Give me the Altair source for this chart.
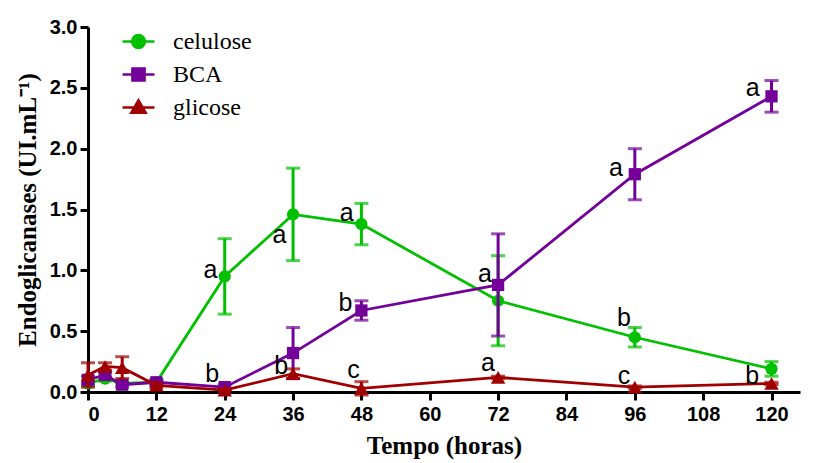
import altair as alt
import pandas as pd

time = [0, 3, 6, 12, 24, 36, 48, 72, 96, 120]
celulose = [0.07, 0.11, 0.07, 0.08, 0.95, 1.46, 1.38, 0.75, 0.45, 0.19]
celulose_sd = [0.02, 0.02, 0.01, 0.02, 0.31, 0.38, 0.17, 0.37, 0.08, 0.06]
bca = [0.10, 0.14, 0.06, 0.08, 0.04, 0.32, 0.67, 0.88, 1.79, 2.43]
bca_sd = [0.03, 0.02, 0.02, 0.02, 0.02, 0.21, 0.08, 0.42, 0.21, 0.13]
glicose = [0.14, 0.21, 0.20, 0.055, 0.015, 0.15, 0.03, 0.12, 0.04, 0.07]
glicose_sd = [0.10, 0.03, 0.09, 0.02, 0.01, 0.04, 0.055, 0.01, 0.01, 0.01]

series_names = ["celulose", "BCA", "glicose"]
series_colors = ["#00C000", "#730099", "#A00000"]

# significance letters (text, x position in hours, y value)
letter_text = ["a", "a", "a", "a", "b", "b", "b", "c", "a", "a", "a", "b", "c", "b"]
letter_x = [21.5, 33.6, 45.4, 69.7, 45.2, 33.9, 21.8, 46.6, 70.2, 92.7, 116.7, 94.1, 94.1, 116.6]
letter_y = [1.00, 1.29, 1.47, 0.97, 0.73, 0.21, 0.15, 0.18, 0.24, 1.84, 2.50, 0.61, 0.13, 0.13]

x_ticks = list(range(0, 121, 12))
y_ticks = [0.0, 0.5, 1.0, 1.5, 2.0, 2.5, 3.0]

rows = []
for name, vals, sds in [("celulose", celulose, celulose_sd), ("BCA", bca, bca_sd), ("glicose", glicose, glicose_sd)]:
    for t, v, s in zip(time, vals, sds):
        rows.append({"series": name, "t": t, "v": v, "lo": v - s, "hi": v + s})
df = pd.DataFrame(rows)
labels_df = pd.DataFrame({"txt": letter_text, "t": letter_x, "v": letter_y})

xscale = alt.Scale(domain=[0, 125], nice=False, zero=False)
yscale = alt.Scale(domain=[0, 3], nice=False)
cscale = alt.Scale(domain=series_names, range=series_colors)

X = alt.X("t:Q", scale=xscale,
          axis=alt.Axis(values=x_ticks, title="Tempo (horas)", format="d", labelPadding=4, titlePadding=9))
Y = alt.Y("v:Q", scale=yscale,
          axis=alt.Axis(values=y_ticks, title="Endoglicanases (UI.mL⁻¹)", format=".1f", labelPadding=3, titlePadding=9))
C = alt.Color("series:N", scale=cscale, legend=None)

base = alt.Chart(df)

layers = []
shapes = {"celulose": "circle", "BCA": "square", "glicose": "triangle-up"}
sizes = {"celulose": 150, "BCA": 150, "glicose": 210}
for name in series_names:
    b = base.transform_filter(alt.datum.series == name)
    layers.append(b.mark_rule(strokeWidth=3).encode(x=X, y=alt.Y("lo:Q", scale=yscale), y2="hi:Q", color=C))
    layers.append(b.mark_tick(orient="horizontal", size=14, thickness=3).encode(x=X, y=alt.Y("lo:Q", scale=yscale), color=C))
    layers.append(b.mark_tick(orient="horizontal", size=14, thickness=3).encode(x=X, y=alt.Y("hi:Q", scale=yscale), color=C))
    layers.append(b.mark_line(strokeWidth=2.8).encode(x=X, y=Y, color=C))
    layers.append(b.mark_point(shape=shapes[name], filled=True, opacity=1, size=sizes[name]).encode(x=X, y=Y, color=C))

# legend layer (marks invisible, only the legend is shown)
paths = [
    "M-1,0L1,0M-0.4,0A0.4,0.4,0,1,0,0.4,0A0.4,0.4,0,1,0,-0.4,0Z",
    "M-1,0L1,0M-0.38,-0.38L0.38,-0.38L0.38,0.38L-0.38,0.38Z",
    "M-1,0L1,0M0,-0.45L0.45,0.33L-0.45,0.33Z",
]
leg_scale = alt.Scale(domain=series_names, range=series_colors)
legend = alt.Legend(title=None, orient="none", legendX=33, legendY=-3, padding=0,
                    labelFont="Liberation Serif", labelFontSize=24, labelFontWeight="normal",
                    labelColor="black", labelOffset=17, rowPadding=3, symbolSize=1024,
                    symbolStrokeWidth=2.5, symbolOpacity=1)
leg = base.mark_point(filled=True, size=1024, opacity=0).encode(
    x=X, y=Y,
    fill=alt.Fill("series:N", scale=leg_scale, legend=legend),
    stroke=alt.Stroke("series:N", scale=leg_scale, legend=legend),
    shape=alt.Shape("series:N", scale=alt.Scale(domain=series_names, range=paths), legend=legend),
)
layers.insert(0, leg)

txt = alt.Chart(labels_df).mark_text(font="Liberation Sans", fontSize=25, color="black",
                                     align="center", baseline="middle").encode(
    x=alt.X("t:Q", scale=xscale), y=alt.Y("v:Q", scale=yscale), text="txt:N")
layers.append(txt)

chart = alt.layer(*layers).properties(
    width=712, height=365,
    autosize=alt.AutoSizeParams(type="none"),
    padding={"left": 88, "top": 27, "right": 17, "bottom": 71},
).configure_view(stroke=None).configure_axis(
    domainWidth=3, domainColor="black", tickWidth=3, tickSize=8, tickColor="black",
    labelFont="Liberation Sans", labelFontWeight="bold", labelFontSize=20, labelColor="black",
    titleFont="Liberation Serif", titleFontSize=25, titleFontWeight="bold", titleColor="black",
    grid=False,
)

chart.save("out.html", embed_options={"renderer": "svg", "actions": False})
